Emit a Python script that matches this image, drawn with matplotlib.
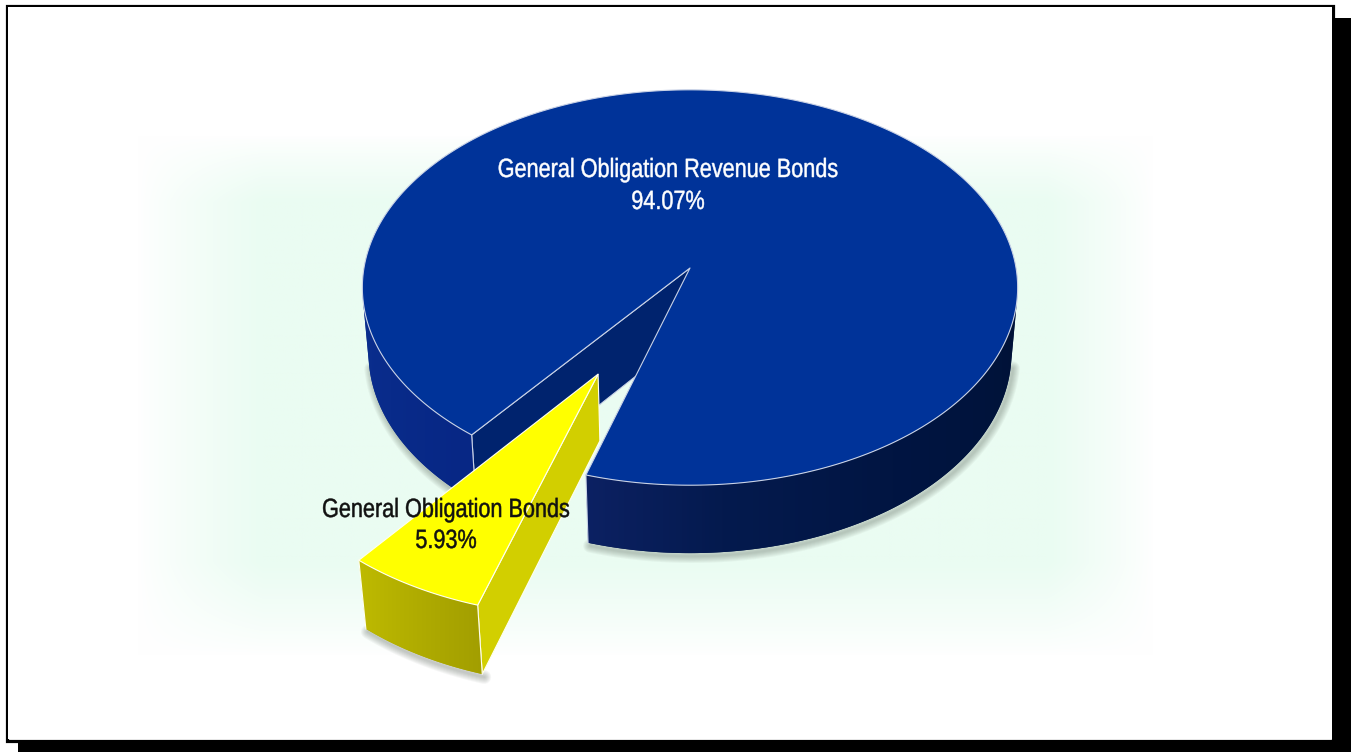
import numpy as np
import matplotlib
matplotlib.use("Agg")
import matplotlib.pyplot as plt
from matplotlib.patches import Polygon, Rectangle
from matplotlib.colors import to_rgb
from matplotlib.patheffects import AbstractPathEffect
from matplotlib.transforms import Affine2D

# ---- data -------------------------------------------------------------
labels = ["General Obligation Revenue Bonds", "General Obligation Bonds"]
shares = [94.07, 5.93]
explode = [0.0, 0.58]
top_colors = ["#003399", "#ffff00"]
wall_colors = ["#00236e", "#d2cf00"]
# side colour ramps (angle in degrees -> colour)
side_ramps = [
    [(185, "#0b2f8f"), (231, "#072785"), (253, "#0c2163"), (275, "#041a4e"),
     (305, "#011542"), (355, "#001236")],
    [(225, "#c6c200"), (260, "#9a9600")],
]
label_colors = ["white", "#111111"]
label_pos = [(668, 177, 209), (446, 517, 548)]
start_angle = 253.2

# ---- figure ----------------------------------------------------------
W, H = 1351, 752
fig = plt.figure(figsize=(W / 100, H / 100), dpi=100)
ax = fig.add_axes([0, 0, 1, 1])
ax.set_xlim(0, W)
ax.set_ylim(H, 0)
ax.set_autoscale_on(False)
ax.axis("off")

plt.rcParams["font.family"] = ["Liberation Sans", "DejaVu Sans"]


class Condensed(AbstractPathEffect):
    """Squeeze glyph outlines horizontally around a fixed display x,
    with a hairline stroke to give the face a little more weight."""

    def __init__(self, cx, factor, stroke=0.35):
        super().__init__()
        self.cx = cx
        self.factor = factor
        self.stroke = stroke

    def draw_path(self, renderer, gc, tpath, affine, rgbFace=None):
        squeeze = (Affine2D().translate(-self.cx, 0).scale(self.factor, 1)
                   .translate(self.cx, 0))
        gc0 = renderer.new_gc()
        gc0.copy_properties(gc)
        if rgbFace is not None:
            gc0.set_foreground(rgbFace)
        gc0.set_linewidth(self.stroke)
        renderer.draw_path(gc0, tpath, affine + squeeze, rgbFace)
        gc0.restore()


# framed card with a hard drop shadow
ax.add_patch(Rectangle((18, 18), W - 18, H - 18, facecolor="black", edgecolor="none", zorder=0))
ax.add_patch(Rectangle((6.5, 5.5), 1326, 735, facecolor="white", edgecolor="black",
                       linewidth=2.3, zorder=1))

# soft mint glow behind the pie
yy, xx = np.mgrid[0:H, 0:W]


def ramp(v, a, b):
    return np.clip((v - a) / (b - a), 0, 1)


mask = (ramp(xx, 132, 260) * ramp(-xx, -1168, -1060) *
        ramp(yy, 132, 200) * ramp(-yy, -665, -570))
mask = mask ** 0.8
mint = np.array(to_rgb("#eafcf2"))
glow = np.ones((H, W, 3)) * (1 - mask[..., None]) + mint * mask[..., None]
ax.imshow(glow, extent=(8, W - 19, H - 13, 7), zorder=2, interpolation="bilinear",
          aspect="auto")

# ---- projection --------------------------------------------------------
ELEV = np.radians(36.9)
DIST = 8.10
FOCAL = 2641.0
CX, CY = 690.0, 268.0
THICK = 0.2554
SE, CE = np.sin(ELEV), np.cos(ELEV)


def project(x, y, z):
    depth = DIST + y * CE - z * SE
    return CX + FOCAL * x / depth, CY - FOCAL * (y * SE + z * CE) / depth


def ramp_colors(stops, angs_deg):
    angs = [s[0] for s in stops]
    cols = np.array([to_rgb(s[1]) for s in stops])
    return np.stack([np.interp(angs_deg, angs, cols[:, k]) for k in range(3)], -1)


cam = np.array([0.0, -DIST * CE, DIST * SE])


def facing(normal, point):
    return np.dot(normal, cam - point) > 0


def shade_side(tx, ty, bx, by, cols, zo):
    """Fill one curved side band with a horizontal colour gradient."""
    poly = Polygon(list(zip(tx, ty)) + list(zip(bx[::-1], by[::-1])), closed=True,
                   facecolor=tuple(cols.mean(0)), edgecolor="none", zorder=zo)
    ax.add_patch(poly)
    xm = (tx + bx) / 2
    order = np.argsort(xm)
    x0, x1 = min(tx.min(), bx.min()) - 2, max(tx.max(), bx.max()) + 2
    y0, y1 = min(ty.min(), by.min()) - 2, max(ty.max(), by.max()) + 2
    xs = np.linspace(x0, x1, 512)
    img = np.stack([np.interp(xs, xm[order], cols[order, k]) for k in range(3)], -1)
    im = ax.imshow(img[None, :, :], extent=(x0, x1, y1, y0), aspect="auto",
                   interpolation="bilinear", zorder=zo + 0.1)
    im.set_clip_path(poly)


total = sum(shares)
edge_light = "#c9d2e6"
z_base = 10
a0 = start_angle
for i, share in enumerate(shares):
    span = 360.0 * share / total
    a1 = a0 + span
    mid = np.radians((a0 + a1) / 2)
    ox, oy = explode[i] * np.cos(mid), explode[i] * np.sin(mid)
    edge_col = edge_light if i == 0 else "#fffff0"
    zo = z_base + 10 * i

    angs = np.radians(np.linspace(a0, a1, max(int(span * 2), 8)))
    rx = ox + np.cos(angs)
    ry = oy + np.sin(angs)

    vis = np.array([facing(np.array([np.cos(t), np.sin(t), 0]),
                           np.array([ox + np.cos(t), oy + np.sin(t), -THICK / 2]))
                    for t in angs])
    tx, ty = project(rx, ry, 0)
    bx, by = project(rx, ry, -THICK)

    # soft cast shadow along visible bottom rim
    for k in range(7):
        ax.plot(np.where(vis, bx + 2.0, np.nan), np.where(vis, by + 3.0, np.nan),
                color="#556055", lw=1.5 + 1.4 * k, alpha=0.055,
                solid_capstyle="round", zorder=zo - 1)

    # radial walls
    for edge_ang, sign in ((a0, -1), (a1, 1)):
        t = np.radians(edge_ang)
        n = sign * np.array([-np.sin(t), np.cos(t), 0.0])
        rim = np.array([ox + np.cos(t), oy + np.sin(t)])
        centre = np.array([ox, oy])
        midpt = np.array([*(rim + centre) / 2, -THICK / 2])
        if facing(n, midpt):
            pts = [project(ox, oy, 0), project(*rim, 0), project(*rim, -THICK),
                   project(ox, oy, -THICK)]
            ax.add_patch(Polygon(pts, closed=True, facecolor=wall_colors[i],
                                 edgecolor=edge_col, linewidth=0.8, zorder=zo))

    # curved outer side: one gradient band per visible run
    cols = ramp_colors(side_ramps[i], np.degrees(angs) % 360)
    idx = np.flatnonzero(vis)
    if idx.size:
        runs = np.split(idx, np.flatnonzero(np.diff(idx) > 1) + 1)
        for run in runs:
            sl = slice(run[0], run[-1] + 1)
            shade_side(tx[sl], ty[sl], bx[sl], by[sl], cols[sl], zo + 1)
    # vertical edges at the ends of the side
    for k in (0, len(angs) - 1):
        if vis[k]:
            ax.plot([tx[k], bx[k]], [ty[k], by[k]], color=edge_col, lw=0.8, zorder=zo + 2)

    # top face
    cxp, cyp = project(ox, oy, 0)
    top = [(cxp, cyp)] + list(zip(tx, ty))
    ax.add_patch(Polygon(top, closed=True, facecolor=top_colors[i], edgecolor=edge_col,
                         linewidth=0.8, joinstyle="round", zorder=zo + 3))

    # labels in a narrow face
    lx, ly1, ly2 = label_pos[i]
    disp_x = ax.transData.transform((lx, 0))[0]
    squeeze = [Condensed(disp_x, 0.82)]
    ax.text(lx, ly1, labels[i], ha="center", va="baseline", fontsize=19,
            color=label_colors[i], zorder=50, path_effects=squeeze)
    ax.text(lx, ly2, f"{share:.2f}%", ha="center", va="baseline", fontsize=19,
            color=label_colors[i], zorder=50, path_effects=squeeze)

    a0 = a1

ax.set_xlim(0, W)
ax.set_ylim(H, 0)
fig.savefig("out.png", dpi=100)
